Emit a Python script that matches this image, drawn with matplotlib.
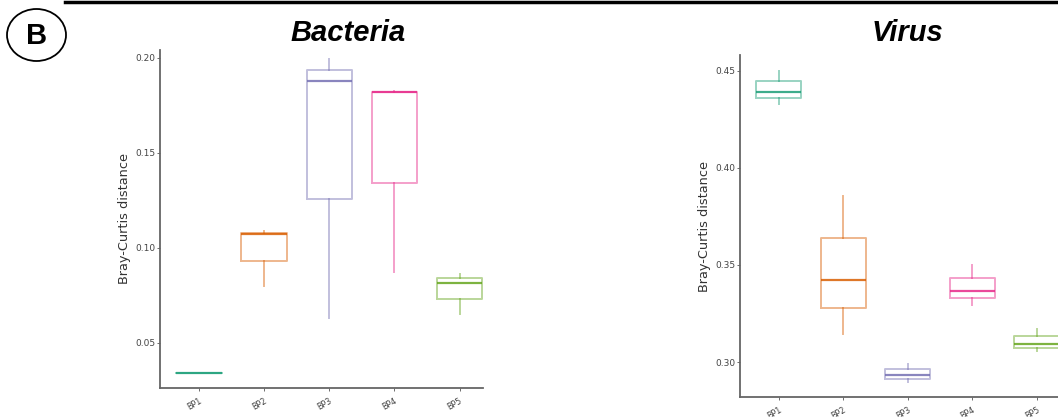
import matplotlib.pyplot as plt
from matplotlib.patches import Ellipse

plt.rcParams['font.family'] = ['Liberation Sans', 'DejaVu Sans']

groups = ['BP1', 'BP2', 'BP3', 'BP4', 'BP5']
colors = ['#1B9E77', '#D95F02', '#7570B3', '#E7298A', '#66A61E']

# Bacteria box stats
bac_lo = [0.0342, 0.0802, 0.0630, 0.0875, 0.0651]
bac_q1 = [0.0342, 0.0933, 0.1256, 0.1344, 0.0732]
bac_med = [0.0342, 0.1072, 0.1880, 0.1820, 0.0817]
bac_q3 = [0.0342, 0.1077, 0.1937, 0.1822, 0.0840]
bac_hi = [0.0342, 0.1090, 0.1993, 0.1825, 0.0861]

# Virus box stats
vir_lo = [0.4328, 0.3143, 0.2897, 0.3294, 0.3057]
vir_q1 = [0.4358, 0.3280, 0.2914, 0.3329, 0.3074]
vir_med = [0.4392, 0.3423, 0.2935, 0.3366, 0.3095]
vir_q3 = [0.4447, 0.3636, 0.2962, 0.3431, 0.3134]
vir_hi = [0.4500, 0.3854, 0.2992, 0.3500, 0.3172]

W, H = 1058, 417
fig = plt.figure(figsize=(W / 100, H / 100), dpi=100)


def panel(rect, title, tx, lo, q1, med, q3, hi, ylim, yticks):
    l, r, b, t = rect
    ax = fig.add_axes([l / W, (H - b) / H, (r - l) / W, (b - t) / H])
    for i in range(len(groups)):
        st = dict(whislo=lo[i], q1=q1[i], med=med[i], q3=q3[i], whishi=hi[i], fliers=[])
        c = colors[i]
        ax.bxp([st], positions=[i], widths=0.7, showcaps=False,
               boxprops=dict(color=c, alpha=0.45, lw=1.4),
               whiskerprops=dict(color=c, alpha=0.45, lw=1.4),
               medianprops=dict(color=c, alpha=0.85, lw=1.6))
    ax.set_xlim(-0.6, 4.36)
    ax.set_ylim(*ylim)
    ax.set_yticks(yticks)
    ax.set_yticklabels(['%.2f' % v for v in yticks], family=['DejaVu Sans'], fontsize=6.5)
    ax.set_xticks(range(len(groups)))
    ax.set_xticklabels(groups, rotation=30, ha='right', rotation_mode='anchor',
                       family=['DejaVu Sans'], fontsize=5.8)
    for s in ['top', 'right']:
        ax.spines[s].set_visible(False)
    for s in ['left', 'bottom']:
        ax.spines[s].set_color('#666666')
        ax.spines[s].set_linewidth(1.3)
    ax.tick_params(length=2, width=0.6, color='#555555',
                   labelcolor='#444444', pad=1.5)
    ax.tick_params(axis='x', pad=4)
    ax.set_ylabel('Bray-Curtis distance', fontsize=9.3, color='#333333',
                  family=['DejaVu Sans'], labelpad=3)
    fig.text(tx / W, 1 - 41 / H, title, ha='center', va='baseline', fontsize=21,
             fontweight='bold', fontstyle='italic')
    return ax


panel((160, 483, 388, 50), 'Bacteria', 348, bac_lo, bac_q1, bac_med, bac_q3, bac_hi,
      (0.0263, 0.2042), [0.05, 0.10, 0.15, 0.20])
panel((740, 1060, 397, 55), 'Virus', 907, vir_lo, vir_q1, vir_med, vir_q3, vir_hi,
      (0.282, 0.458), [0.30, 0.35, 0.40, 0.45])

# top rule and panel letter
fig.add_artist(plt.Line2D([65 / W, 1], [1 - 2 / H, 1 - 2 / H], color='black', lw=2.5))
fig.add_artist(Ellipse((36.5 / W, 1 - 35 / H), 59 / W, 52 / H, fill=False,
                       ec='black', lw=1.3, transform=fig.transFigure))
fig.text(36.5 / W, 1 - 36 / H, 'B', ha='center', va='center', fontsize=21,
         fontweight='bold')

fig.savefig('out.png', dpi=100)
